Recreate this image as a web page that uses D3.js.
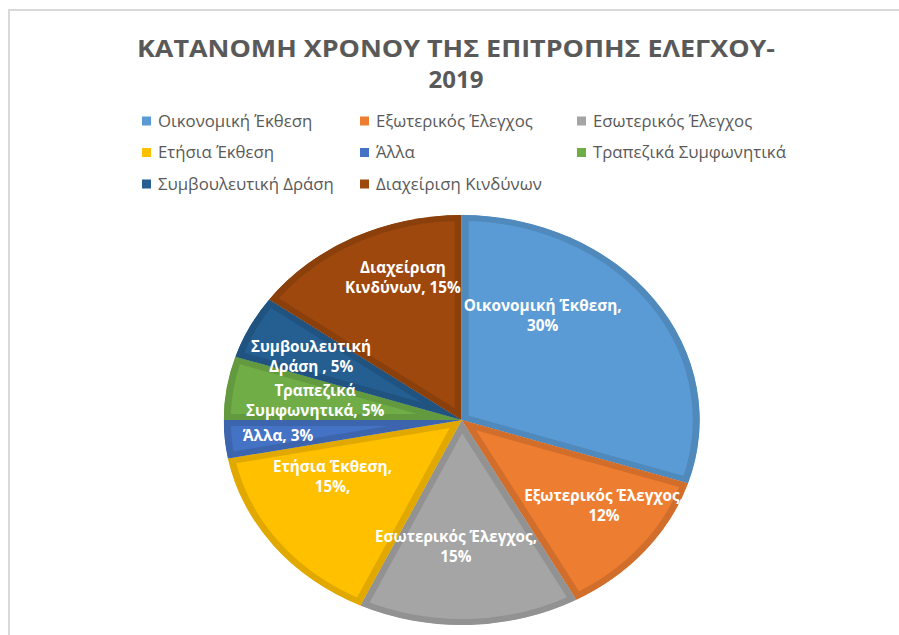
<!DOCTYPE html>
<html><head><meta charset="utf-8">
<script src="https://cdn.jsdelivr.net/npm/d3@7"></script>
<style>body{margin:0;background:#fff}svg{display:block}</style>
</head><body><svg id="c" width="899" height="635"></svg>
<script>
const categories = ["Οικονομική Έκθεση","Εξωτερικός Έλεγχος","Εσωτερικός Έλεγχος","Ετήσια Έκθεση","Άλλα","Τραπεζικά Συμφωνητικά","Συμβουλευτική Δράση","Διαχείριση Κινδύνων"];
const values = [30,12,15,15,3,5,5,15];
const labelLines = [["Οικονομική Έκθεση,","30%"],["Εξωτερικός Έλεγχος,","12%"],["Εσωτερικός Έλεγχος,","15%"],["Ετήσια Έκθεση,","15%,"],["Άλλα, 3%"],["Τραπεζικά","Συμφωνητικά, 5%"],["Συμβουλευτική","Δράση , 5%"],["Διαχείριση","Κινδύνων, 15%"]];
const colors = ["#5B9BD5","#ED7D31","#A5A5A5","#FFC000","#4472C4","#70AD47","#255E91","#9E480E"];
const titleLines = ["ΚΑΤΑΝΟΜΗ ΧΡΟΝΟΥ ΤΗΣ ΕΠΙΤΡΟΠΗΣ ΕΛΕΓΧΟΥ-","2019"];

// layout (not data)
const cx = 461.7, cy = 420, R = 205, sx = 238/205;
const labelAnchor = [[0.34,-0.51],[0.598,0.42],[-0.024,0.618],[-0.543,0.275],[-0.772,0.077],[-0.616,-0.094],[-0.633,-0.309],[-0.247,-0.693]];

const svg = d3.select("#c");
svg.append("rect").attr("x",9).attr("y",10).attr("width",900).attr("height",640)
  .attr("fill","#fff").attr("stroke","#d9d9d9").attr("stroke-width",2);

// title
const title = svg.append("text").attr("text-anchor","middle").attr("fill","#595959")
  .attr("font-family","'Open Sans', sans-serif").attr("font-weight","bold").attr("font-size",24);
titleLines.forEach((t,i)=>{
  const ts = title.append("tspan").attr("x",456).attr("y",57+i*31).text(t);
  if(i===0) ts.attr("textLength",638).attr("lengthAdjust","spacingAndGlyphs");
});

// legend
const colX = [142,360,577], rowY = [121,152.5,184];
const leg = svg.append("g").attr("font-family","'Open Sans', sans-serif").attr("font-size",16.8).attr("fill","#595959");
categories.forEach((c,i)=>{
  const x = colX[i%3], y = rowY[Math.floor(i/3)];
  leg.append("rect").attr("x",x).attr("y",y-4.5).attr("width",9).attr("height",9).attr("fill",colors[i]);
  leg.append("text").attr("x",x+16).attr("y",y).attr("dy","0.35em").text(c);
});

// pie
const pie = d3.pie().sort(null).value(d=>d).startAngle(0).endAngle(2*Math.PI);
const arc = d3.arc().innerRadius(0).outerRadius(R);
const arcs = pie(values);
const g = svg.append("g").attr("transform",`translate(${cx},${cy}) scale(${sx},1)`);
const defs = svg.append("defs");
arcs.forEach((a,i)=>{
  defs.append("clipPath").attr("id","cp"+i).append("path").attr("d",arc(a));
  g.append("path").attr("d",arc(a)).attr("fill",colors[i])
    .attr("stroke",d3.color(colors[i]).darker(0.35)).attr("stroke-width",12)
    .attr("stroke-linejoin","miter")
    .attr("clip-path",`url(#cp${i})`);
});

// labels
defs.append("clipPath").attr("id","lblclip").append("rect").attr("x",0).attr("y",0).attr("width",684).attr("height",635);
const lg = svg.append("g").attr("clip-path","url(#lblclip)")
  .attr("font-family","'Open Sans', sans-serif").attr("font-weight","bold").attr("font-size",15.3)
  .attr("fill","#fff").attr("text-anchor","middle");
labelLines.forEach((lines,i)=>{
  const x = cx + labelAnchor[i][0]*R*sx, y = cy + labelAnchor[i][1]*R;
  const n = lines.length;
  const t = lg.append("text");
  lines.forEach((l,j)=>{
    t.append("tspan").attr("x",x).attr("y",y + (j-(n-1)/2)*20).attr("dy","0.35em").text(l);
  });
});
</script></body></html>
